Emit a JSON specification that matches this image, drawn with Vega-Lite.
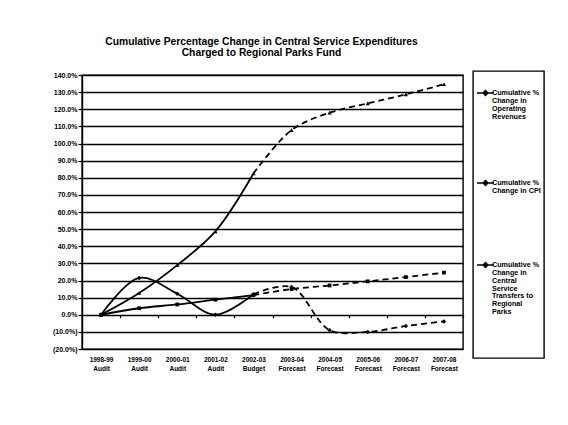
{
  "$schema": "https://vega.github.io/schema/vega-lite/v6.json",
  "width": 381,
  "height": 274,
  "autosize": {"type": "none"},
  "padding": {"left": 82, "top": 75, "right": 105, "bottom": 76},
  "background": "white",
  "config": {
    "font": "Liberation Sans",
    "view": {"stroke": "black", "strokeWidth": 1.4},
    "axis": {"labelFont": "Liberation Sans", "labelFontWeight": "bold", "labelColor": "black", "tickColor": "black", "domainColor": "black"}
  },
  "title": {
    "text": ["Cumulative Percentage Change in Central Service Expenditures", "Charged to Regional Parks Fund"],
    "font": "Liberation Sans",
    "fontSize": 10.3,
    "fontWeight": "bold",
    "lineHeight": 11,
    "color": "black",
    "anchor": "middle",
    "frame": "group",
    "dx": -11,
    "offset": 12
  },
  "data": {
    "values": [
      {"series": "Cumulative % Change in Operating Revenues", "period": "1998-99 Audit", "basis": "Audit", "value": 0},
      {"series": "Cumulative % Change in Operating Revenues", "period": "1999-00 Audit", "basis": "Audit", "value": 21.5},
      {"series": "Cumulative % Change in Operating Revenues", "period": "2000-01 Audit", "basis": "Audit", "value": 12.3},
      {"series": "Cumulative % Change in Operating Revenues", "period": "2001-02 Audit", "basis": "Audit", "value": 0},
      {"series": "Cumulative % Change in Operating Revenues", "period": "2002-03 Budget", "basis": "Budget", "value": 12},
      {"series": "Cumulative % Change in Operating Revenues", "period": "2003-04 Forecast", "basis": "Forecast", "value": 16.2},
      {"series": "Cumulative % Change in Operating Revenues", "period": "2004-05 Forecast", "basis": "Forecast", "value": -9},
      {"series": "Cumulative % Change in Operating Revenues", "period": "2005-06 Forecast", "basis": "Forecast", "value": -10},
      {"series": "Cumulative % Change in Operating Revenues", "period": "2006-07 Forecast", "basis": "Forecast", "value": -6.6},
      {"series": "Cumulative % Change in Operating Revenues", "period": "2007-08 Forecast", "basis": "Forecast", "value": -3.9},
      {"series": "Cumulative % Change in CPI", "period": "1998-99 Audit", "basis": "Audit", "value": 0},
      {"series": "Cumulative % Change in CPI", "period": "1999-00 Audit", "basis": "Audit", "value": 3.8},
      {"series": "Cumulative % Change in CPI", "period": "2000-01 Audit", "basis": "Audit", "value": 6.0},
      {"series": "Cumulative % Change in CPI", "period": "2001-02 Audit", "basis": "Audit", "value": 8.8},
      {"series": "Cumulative % Change in CPI", "period": "2002-03 Budget", "basis": "Budget", "value": 11.5},
      {"series": "Cumulative % Change in CPI", "period": "2003-04 Forecast", "basis": "Forecast", "value": 15.0},
      {"series": "Cumulative % Change in CPI", "period": "2004-05 Forecast", "basis": "Forecast", "value": 17.1},
      {"series": "Cumulative % Change in CPI", "period": "2005-06 Forecast", "basis": "Forecast", "value": 19.5},
      {"series": "Cumulative % Change in CPI", "period": "2006-07 Forecast", "basis": "Forecast", "value": 22.0},
      {"series": "Cumulative % Change in CPI", "period": "2007-08 Forecast", "basis": "Forecast", "value": 24.6},
      {"series": "Cumulative % Change in Central Service Transfers to Regional Parks", "period": "1998-99 Audit", "basis": "Audit", "value": 0},
      {"series": "Cumulative % Change in Central Service Transfers to Regional Parks", "period": "1999-00 Audit", "basis": "Audit", "value": 12.7},
      {"series": "Cumulative % Change in Central Service Transfers to Regional Parks", "period": "2000-01 Audit", "basis": "Audit", "value": 29.0},
      {"series": "Cumulative % Change in Central Service Transfers to Regional Parks", "period": "2001-02 Audit", "basis": "Audit", "value": 48.7},
      {"series": "Cumulative % Change in Central Service Transfers to Regional Parks", "period": "2002-03 Budget", "basis": "Budget", "value": 82.5},
      {"series": "Cumulative % Change in Central Service Transfers to Regional Parks", "period": "2003-04 Forecast", "basis": "Forecast", "value": 107.8},
      {"series": "Cumulative % Change in Central Service Transfers to Regional Parks", "period": "2004-05 Forecast", "basis": "Forecast", "value": 118.0},
      {"series": "Cumulative % Change in Central Service Transfers to Regional Parks", "period": "2005-06 Forecast", "basis": "Forecast", "value": 123.4},
      {"series": "Cumulative % Change in Central Service Transfers to Regional Parks", "period": "2006-07 Forecast", "basis": "Forecast", "value": 128.7},
      {"series": "Cumulative % Change in Central Service Transfers to Regional Parks", "period": "2007-08 Forecast", "basis": "Forecast", "value": 134.6}
    ]
  },
  "encoding": {
    "x": {
      "field": "period",
      "type": "ordinal",
      "sort": null,
      "scale": {"type": "point", "padding": 0.5},
      "axis": {
        "title": null,
        "orient": "bottom",
        "offset": -34.25,
        "domain": false,
        "ticks": true,
        "tickSize": 3,
        "tickWidth": 1.2,
        "tickOffset": 19.05,
        "labelOffset": -19.05,
        "labelAngle": 0,
        "labelPadding": 39,
        "labelFontSize": 6.5,
        "labelLineHeight": 9,
        "labelBaseline": "top",
        "labelExpr": "split(datum.label, ' ')"
      }
    },
    "y": {
      "field": "value",
      "type": "quantitative",
      "scale": {"domain": [-20, 140], "nice": false, "zero": false},
      "axis": {
        "title": null,
        "values": [-20, -10, 0, 10, 20, 30, 40, 50, 60, 70, 80, 90, 100, 110, 120, 130, 140],
        "grid": true,
        "gridColor": "black",
        "gridWidth": 1.5,
        "gridOpacity": 1,
        "domain": true,
        "domainWidth": 1.4,
        "tickSize": 4,
        "tickWidth": 1.2,
        "labelPadding": 1,
        "labelFontSize": 7,
        "labelExpr": "datum.value < 0 ? '(' + format(-datum.value, '.1f') + '%)' : format(datum.value, '.1f') + '%'"
      }
    }
  },
  "layer": [
    {
      "transform": [{"filter": "datum.basis != 'Forecast'"}],
      "mark": {"type": "line", "interpolate": "catmull-rom", "strokeWidth": 1.8},
      "encoding": {
        "color": {
          "field": "series",
          "type": "nominal",
          "scale": {
            "domain": ["Cumulative % Change in Operating Revenues", "Cumulative % Change in CPI", "Cumulative % Change in Central Service Transfers to Regional Parks"],
            "range": ["black", "black", "black"]
          },
          "legend": {
            "title": null,
            "orient": "none",
            "legendX": 391,
            "legendY": -4,
            "direction": "vertical",
            "gridAlign": "each",
            "rowPadding": 44,
            "padding": 3,
            "strokeColor": "black",
            "fillColor": "white",
            "symbolType": "M-1,0.8H0.7M-0.4,0.8L-0.15,0.55L0.1,0.8L-0.15,1.05Z",
            "symbolSize": 400,
            "symbolStrokeWidth": 1.4,
            "symbolFillColor": "black",
            "symbolStrokeColor": "black",
            "labelOffset": -6,
            "labelFont": "Liberation Sans",
            "labelFontWeight": "bold",
            "labelFontSize": 7.2,
            "labelColor": "black",
            "labelBaseline": "top",
            "labelLimit": 0,
            "labelExpr": "datum.value == 'Cumulative % Change in Operating Revenues' ? ['Cumulative %', 'Change in', 'Operating', 'Revenues'] : datum.value == 'Cumulative % Change in CPI' ? ['Cumulative %', 'Change in CPI', ''] : ['Cumulative %', 'Change in', 'Central', 'Service', 'Transfers to', 'Regional', 'Parks', '', '', '', '', '']",
            "encode": {
              "legend": {"update": {"strokeWidth": {"value": 1.4}}},
              "labels": {"update": {"dy": {"value": 4.2}, "lineHeight": {"value": 7.8}}},
              "symbols": {"update": {"fill": {"value": "black"}, "stroke": {"value": "black"}, "strokeWidth": {"value": 1.4}, "opacity": {"value": 1}}}
            }
          }
        }
      }
    },
    {
      "transform": [{"filter": "datum.basis != 'Audit'"}],
      "mark": {"type": "line", "interpolate": "catmull-rom", "strokeWidth": 1.8, "strokeDash": [6, 4]},
      "encoding": {
        "color": {"field": "series", "type": "nominal"}
      }
    },
    {
      "transform": [{"filter": "datum.series == 'Cumulative % Change in Operating Revenues'"}],
      "mark": {"type": "point", "shape": "diamond", "filled": true, "size": 20, "opacity": 1, "color": "black"}
    },
    {
      "transform": [{"filter": "datum.series == 'Cumulative % Change in CPI'"}],
      "mark": {"type": "point", "shape": "square", "filled": true, "size": 14, "opacity": 1, "color": "black"}
    },
    {
      "transform": [{"filter": "datum.series == 'Cumulative % Change in Central Service Transfers to Regional Parks'"}],
      "mark": {"type": "point", "shape": "triangle-up", "filled": true, "size": 18, "opacity": 1, "color": "black"}
    }
  ]
}
